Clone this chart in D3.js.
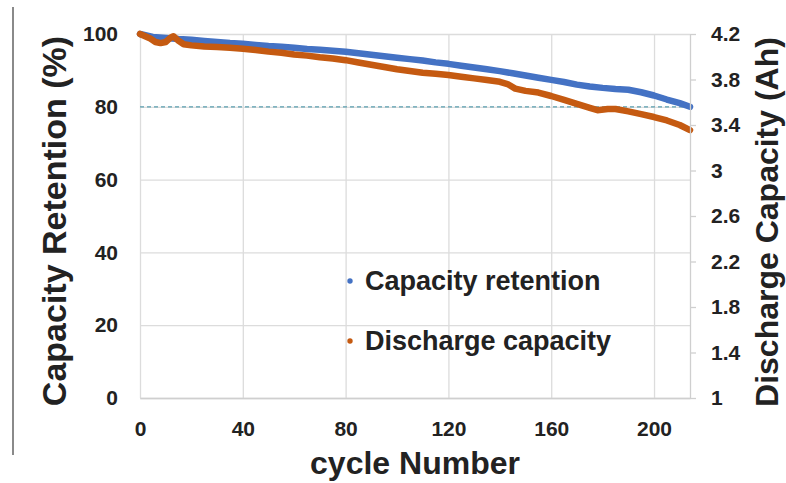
<!DOCTYPE html>
<html>
<head>
<meta charset="utf-8">
<script src="https://cdn.jsdelivr.net/npm/d3@7"></script>
<style>
  body { margin: 0; background: #fff; }
  text { font-family: "Liberation Sans", Arial, sans-serif; font-weight: bold; fill: #222; }
</style>
</head>
<body>
<div id="chart"></div>
<script>
// data
var retentionCycles = [0, 5, 10, 15, 20, 25, 30, 35, 40, 45, 50, 55, 60, 65, 70, 75, 80, 85, 90, 95, 100,
    105, 110, 115, 120, 125, 130, 135, 140, 145, 150, 155, 160, 165, 170, 175, 180, 185, 190, 195, 200, 205, 210, 214];
var retention = [100, 99.2, 98.9, 98.6, 98.4, 98.1, 97.8, 97.5, 97.3, 97.0, 96.7, 96.5, 96.2, 95.9, 95.7, 95.4, 95.1,
    94.7, 94.3, 93.9, 93.5, 93.1, 92.7, 92.2, 91.8, 91.3, 90.8, 90.3, 89.8, 89.2, 88.6, 88.0, 87.4, 86.8, 86.1,
    85.6, 85.2, 84.9, 84.7, 84.0, 83.1, 82.0, 81.0, 80.0];

var capacityCycles = [0, 2, 4, 6, 8, 10, 12, 13, 15, 17, 20, 25, 30, 35, 40, 45, 50, 55, 60, 65, 70, 75, 80, 85,
    90, 95, 100, 105, 110, 115, 120, 125, 130, 135, 140, 143, 146, 150, 155, 160, 165, 170, 175, 178, 182, 185,
    190, 195, 200, 205, 210, 214];
var capacity = [4.20, 4.18, 4.16, 4.13, 4.12, 4.13, 4.17, 4.18, 4.14, 4.11, 4.10, 4.09, 4.085, 4.08, 4.07, 4.06,
    4.045, 4.035, 4.02, 4.01, 3.995, 3.985, 3.97, 3.95, 3.93, 3.91, 3.89, 3.875, 3.86, 3.85, 3.84, 3.825, 3.81,
    3.795, 3.78, 3.76, 3.72, 3.70, 3.685, 3.655, 3.62, 3.585, 3.55, 3.53, 3.54, 3.54, 3.52, 3.495, 3.47, 3.44,
    3.40, 3.355];

var xTicks = [0, 40, 80, 120, 160, 200];
var leftTicks = [0, 20, 40, 60, 80, 100];
var rightTicks = [1, 1.4, 1.8, 2.2, 2.6, 3, 3.4, 3.8, 4.2];
var targetRetention = 80;
var seriesNames = ["Capacity retention", "Discharge capacity"];

//general setup
var width = 786,
    height = 483,
    plotLeft = 140, plotRight = 690,
    plotTop = 34, plotBottom = 398;

var blue = "#4472c4",
    orange = "#c55a11",
    gridColor = "#dcdcdc";

var xScale = d3.scaleLinear().domain([0, 214]).range([plotLeft, plotRight]);
var yLeft = d3.scaleLinear().domain([0, 100]).range([plotBottom, plotTop]);
var yRight = d3.scaleLinear().domain([1, 4.2]).range([plotBottom, plotTop]);

var svg = d3.select("#chart").append("svg")
    .attr("width", width)
    .attr("height", height);

// left border of the figure
svg.append("line")
    .attr("x1", 13).attr("x2", 13)
    .attr("y1", 7).attr("y2", 455)
    .attr("stroke", "#8a8a8a")
    .attr("stroke-width", 2);

// grid
var gx = svg.append("g")
    .attr("transform", "translate(0," + plotBottom + ")")
    .call(d3.axisBottom(xScale).tickValues(xTicks).tickSize(-(plotBottom - plotTop)).tickFormat(""));
gx.select(".domain").remove();
gx.selectAll(".tick line").attr("stroke", gridColor).attr("stroke-width", 1.3);

var gy = svg.append("g")
    .attr("transform", "translate(" + plotLeft + ",0)")
    .call(d3.axisLeft(yLeft).tickValues(leftTicks).tickSize(-(plotRight - plotLeft)).tickFormat(""));
gy.select(".domain").remove();
gy.selectAll(".tick line").attr("stroke", gridColor).attr("stroke-width", 1.3);

// 80% line
svg.append("line")
    .attr("x1", xScale(0)).attr("x2", plotRight)
    .attr("y1", yLeft(targetRetention)).attr("y2", yLeft(targetRetention))
    .attr("stroke", "#5b9fb0")
    .attr("stroke-width", 1.2)
    .attr("stroke-dasharray", "4,3");

// series
var lineRet = d3.line()
    .x(function (d, i) { return xScale(retentionCycles[i]); })
    .y(function (d) { return yLeft(d); });

var lineCap = d3.line()
    .x(function (d, i) { return xScale(capacityCycles[i]); })
    .y(function (d) { return yRight(d); });

svg.append("path")
    .attr("d", lineRet(retention))
    .attr("fill", "none")
    .attr("stroke", blue)
    .attr("stroke-width", 6.5)
    .attr("stroke-linejoin", "round")
    .attr("stroke-linecap", "round");

svg.append("path")
    .attr("d", lineCap(capacity))
    .attr("fill", "none")
    .attr("stroke", orange)
    .attr("stroke-width", 6.5)
    .attr("stroke-linejoin", "round")
    .attr("stroke-linecap", "round");

// axes
var ax = svg.append("g")
    .attr("transform", "translate(0," + plotBottom + ")")
    .call(d3.axisBottom(xScale).tickValues(xTicks).tickSize(0).tickPadding(23));
ax.select(".domain").attr("stroke", "#cfcfcf").attr("stroke-width", 1.3);
ax.selectAll("text").style("font-size", "21px").attr("fill", "#222");

var al = svg.append("g")
    .attr("transform", "translate(" + plotLeft + ",0)")
    .call(d3.axisLeft(yLeft).tickValues(leftTicks).tickSize(0).tickPadding(22));
al.select(".domain").remove();
al.selectAll("text").style("font-size", "21px").attr("fill", "#222");

var ar = svg.append("g")
    .attr("transform", "translate(" + plotRight + ",0)")
    .call(d3.axisRight(yRight).tickValues(rightTicks).tickSize(6).tickSizeOuter(0).tickPadding(15)
        .tickFormat(d3.format("~g")));
ar.select(".domain").attr("stroke", "#cfcfcf").attr("stroke-width", 1.3);
ar.selectAll(".tick line").attr("stroke", "#cfcfcf").attr("stroke-width", 1.3);
ar.selectAll("text").style("font-size", "21px").attr("fill", "#222");

// axis titles
svg.append("text")
    .attr("transform", "translate(415,474)")
    .attr("text-anchor", "middle")
    .style("font-size", "32px")
    .text("cycle Number");

svg.append("text")
    .attr("transform", "translate(66,221) rotate(-90)")
    .attr("text-anchor", "middle")
    .style("font-size", "34px")
    .text("Capacity Retention (%)");

svg.append("text")
    .attr("transform", "translate(778,222) rotate(-90)")
    .attr("text-anchor", "middle")
    .style("font-size", "32px")
    .text("Discharge Capacity (Ah)");

// legend
var legend = svg.selectAll(".legend")
    .data(seriesNames)
    .enter().append("g")
    .attr("class", "legend")
    .attr("transform", function (d, i) { return "translate(350," + (281 + i * 60) + ")"; });

legend.append("circle")
    .attr("r", 2.7)
    .attr("fill", function (d, i) { return i == 0 ? blue : orange; });

legend.append("text")
    .attr("x", 15)
    .attr("y", 9)
    .style("font-size", "27px")
    .text(function (d) { return d; });
</script>
</body>
</html>
